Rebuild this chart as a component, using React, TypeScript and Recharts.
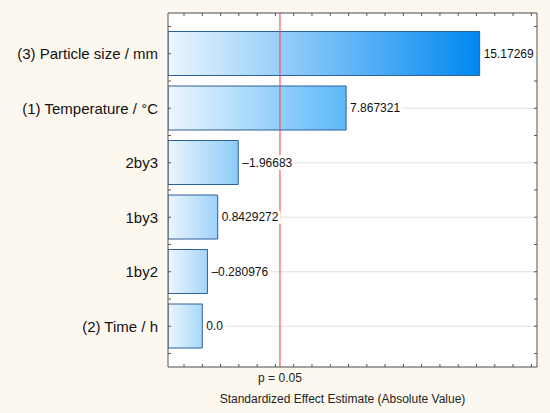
import { Bar, BarChart, CartesianGrid, Cell, LabelList, ReferenceLine, XAxis, YAxis } from "recharts";

const FACTORS = [
  "(3) Particle size / mm",
  "(1) Temperature / °C",
  "2by3",
  "1by3",
  "1by2",
  "(2) Time / h",
];
const ABS_EFFECTS = [15.17269, 7.867321, 1.96683, 0.8429272, 0.280976, 0.0];
const EFFECT_LABELS = ["15.17269", "7.867321", "–1.96683", "0.8429272", "–0.280976", "0.0"];

const X_DOMAIN: [number, number] = [-1.876, 18.31];
const X_TICKS = [-1, 0, 1, 2, 3, 4, 5, 6, 7, 8, 9, 10, 11, 12, 13, 14, 15, 16, 17, 18];
const P_LIMIT = 4.25;
const X_TITLE = "Standardized Effect Estimate (Absolute Value)";

// right-hand colour of each bar's gradient
const BAR_END_COLORS = ["#0088f0", "#5cb8f9", "#8ccbf8", "#9dd2fa", "#a5d6fa", "#a8d8fa"];

const FONT = "'Liberation Sans', Arial, sans-serif";
const FRAME = "#555555";

const rows = FACTORS.map((name, i) => ({
  name,
  effect: ABS_EFFECTS[i],
  label: EFFECT_LABELS[i],
}));

type TickProps = { x?: number; y?: number; index?: number; payload?: { value: string; offset?: number } };

function FactorTick(props: TickProps) {
  const { x = 0, y = 0, index = 0, payload } = props;
  const half = payload?.offset ?? 27;
  // axis line sits at x + 10 (tickMargin 13, inward tick of 3)
  const lx = x + 10;
  return (
    <g>
      <text x={x} y={y} textAnchor="end" dominantBaseline="central" fill="#111" fontSize={15} fontFamily={FONT}>
        {payload?.value}
      </text>
      <line x1={lx} x2={lx + 3} y1={y - half} y2={y - half} stroke={FRAME} />
      {index === FACTORS.length - 1 && <line x1={lx} x2={lx + 3} y1={y + half} y2={y + half} stroke={FRAME} />}
    </g>
  );
}

function FrameTick(props: TickProps) {
  const { x = 0, y = 0, index = 0, payload } = props;
  const half = payload?.offset ?? 27;
  return (
    <g>
      <line x1={x} x2={x + 3} y1={y - half} y2={y - half} stroke={FRAME} />
      {index === FACTORS.length - 1 && <line x1={x} x2={x + 3} y1={y + half} y2={y + half} stroke={FRAME} />}
    </g>
  );
}

// x ticks carry no labels, only the inward tick marks
function NoLabel() {
  return <g />;
}

function EffectLabel(props: { x?: number; y?: number; width?: number; height?: number; value?: string | number }) {
  const { x = 0, y = 0, width = 0, height = 0, value } = props;
  return (
    <text
      x={Number(x) + Number(width) + 4}
      y={Number(y) + Number(height) / 2}
      dominantBaseline="central"
      fill="#111"
      fontSize={12}
      fontFamily={FONT}
      stroke="#fff"
      strokeWidth={6}
      paintOrder="stroke"
    >
      {value}
    </text>
  );
}

export default function App() {
  return (
    <div style={{ width: 550, height: 413, background: "#FDF8EF" }}>
      <style>{"body{margin:0}"}</style>
      <BarChart width={550} height={413} data={rows} layout="vertical" margin={{ top: 12, right: 0, bottom: 0, left: 0 }}>
        <defs>
          {BAR_END_COLORS.map((c, i) => (
            <linearGradient key={i} id={`effectFill${i}`} x1="0" y1="0" x2="1" y2="0">
              <stop offset="0" stopColor="#ecf6fe" />
              <stop offset="1" stopColor={c} />
            </linearGradient>
          ))}
        </defs>
        <CartesianGrid xAxisId="bottom" yAxisId="cat" vertical={false} stroke="#e2e2e2" fill="#ffffff" />
        <XAxis
          xAxisId="bottom"
          type="number"
          domain={X_DOMAIN}
          ticks={X_TICKS}
          interval={0}
          allowDataOverflow
          height={46}
          tickSize={-3}
          tick={<NoLabel />}
          tickLine={{ stroke: FRAME }}
          stroke={FRAME}
          label={{ value: X_TITLE, position: "insideBottom", offset: 10, dx: -10, fontSize: 12, fill: "#222", fontFamily: FONT }}
        />
        <XAxis
          xAxisId="top"
          orientation="top"
          type="number"
          domain={X_DOMAIN}
          ticks={X_TICKS}
          interval={0}
          allowDataOverflow
          height={1}
          tickSize={-3}
          tick={<NoLabel />}
          tickLine={{ stroke: FRAME }}
          stroke={FRAME}
        />
        <YAxis
          yAxisId="cat"
          type="category"
          dataKey="name"
          width={168}
          padding={{ top: 13.5, bottom: 13.5 }}
          interval={0}
          tickSize={-3}
          tickMargin={13}
          tick={<FactorTick />}
          stroke={FRAME}
        />
        <YAxis
          yAxisId="catR"
          orientation="right"
          type="category"
          dataKey="name"
          width={13}
          padding={{ top: 13.5, bottom: 13.5 }}
          interval={0}
          tickSize={-3}
          tickMargin={0}
          tick={<FrameTick />}
          stroke={FRAME}
        />
        <Bar
          xAxisId="bottom"
          yAxisId="cat"
          dataKey={(d: { effect: number }) => [X_DOMAIN[0], d.effect]}
          barSize={44}
          stroke="#2f5f9e"
          strokeWidth={1}
          isAnimationActive={false}
        >
          {rows.map((r, i) => (
            <Cell key={r.name} fill={`url(#effectFill${i})`} />
          ))}
          <LabelList dataKey="label" content={<EffectLabel />} />
        </Bar>
        <ReferenceLine
          xAxisId="bottom"
          yAxisId="cat"
          x={P_LIMIT}
          stroke="#ff3b3b"
          strokeWidth={1}
          label={{ value: "p = 0.05", position: "bottom", offset: 6, fontSize: 12, fill: "#222", fontFamily: FONT }}
        />
      </BarChart>
    </div>
  );
}
